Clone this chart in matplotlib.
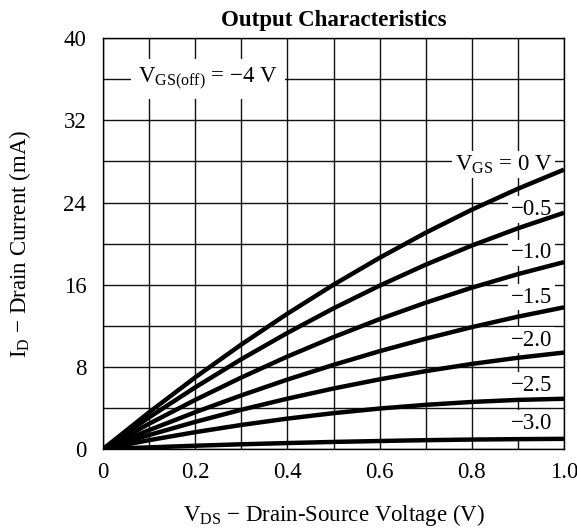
import matplotlib
matplotlib.use('Agg')
import matplotlib.pyplot as plt

# Dados (V_DS em V, I_D em mA)
vds = [0.0, 0.1, 0.2, 0.3, 0.4, 0.5, 0.6, 0.7, 0.8, 0.9, 1.0]
id_0v = [0.0, 3.58, 6.98, 10.18, 13.18, 16.0, 18.62, 21.06, 23.30, 25.34, 27.2]
id_m05 = [0.0, 3.09, 6.01, 8.75, 11.31, 13.7, 15.91, 17.95, 19.81, 21.49, 23.0]
id_m10 = [0.0, 2.47, 4.79, 6.97, 9.01, 10.9, 12.65, 14.25, 15.71, 17.03, 18.2]
id_m15 = [0.0, 1.85, 3.59, 5.23, 6.77, 8.2, 9.53, 10.75, 11.87, 12.89, 13.8]
id_m20 = [0.0, 1.37, 2.65, 3.83, 4.91, 5.9, 6.79, 7.59, 8.29, 8.89, 9.4]
id_m25 = [0.0, 0.87, 1.65, 2.35, 2.97, 3.5, 3.95, 4.31, 4.59, 4.79, 4.9]
id_m30 = [0.0, 0.17, 0.33, 0.47, 0.59, 0.7, 0.79, 0.87, 0.93, 0.97, 1.0]

curvas = [id_0v, id_m05, id_m10, id_m15, id_m20, id_m25, id_m30]
rotulos = ['$\\mathrm{V_{GS}}$ = 0 V', '\u22120.5', '\u22121.0', '\u22121.5',
           '\u22122.0', '\u22122.5', '\u22123.0']
rotulos_y = [27.7, 23.3, 19.1, 14.8, 10.6, 6.2, 2.5]

x_ticks = [0.0, 0.1, 0.2, 0.3, 0.4, 0.5, 0.6, 0.7, 0.8, 0.9, 1.0]
x_labels = ['0', '', '0.2', '', '0.4', '', '0.6', '', '0.8', '', '1.0']
y_ticks = [0, 4, 8, 12, 16, 20, 24, 28, 32, 36, 40]
y_labels = ['0', '', '8', '', '16', '', '24', '', '32', '', '40']

plt.rcParams['font.family'] = ['Liberation Serif', 'DejaVu Serif']
plt.rcParams['mathtext.fontset'] = 'custom'
plt.rcParams['mathtext.rm'] = 'Liberation Serif'
plt.rcParams['mathtext.it'] = 'Liberation Serif:italic'
plt.rcParams['mathtext.bf'] = 'Liberation Serif:bold'

tam = 16.5

fig = plt.figure(figsize=(5.77, 5.29), dpi=100)
ax = fig.add_axes([0.1785, 0.151, 0.799, 0.777])

for curva in curvas:
    ax.plot(vds, curva, color='black', linewidth=3.2, solid_capstyle='butt', zorder=3)

ax.set_xlim(0, 1.0)
ax.set_ylim(0, 40)
ax.set_xticks(x_ticks)
ax.set_xticklabels(x_labels)
ax.set_yticks(y_ticks)
ax.set_yticklabels(y_labels)
ax.tick_params(axis='x', length=0, labelsize=tam, pad=9)
ax.tick_params(axis='y', length=0, labelsize=tam, pad=12)
ax.grid(True, color='#111111', linewidth=1.0, zorder=1)
ax.set_axisbelow(True)
for sp in ax.spines.values():
    sp.set_linewidth(1.0)

# Rótulos das curvas com fundo branco
for texto, yy in zip(rotulos, rotulos_y):
    ax.text(0.975, yy, texto, ha='right', va='center', fontsize=tam,
            bbox=dict(facecolor='white', edgecolor='none', boxstyle='square,pad=0.12'),
            zorder=2)

ax.text(0.228, 36.0, '$\\mathrm{V_{GS(off)}}$ = \u22124 V', ha='center', va='center',
        fontsize=tam, bbox=dict(facecolor='white', edgecolor='none', boxstyle='square,pad=0.3'),
        zorder=2)

ax.set_title('Output Characteristics', fontsize=tam, fontweight='bold', pad=9)
ax.set_xlabel('$\\mathrm{V_{DS}}$ \u2212 Drain-Source Voltage (V)', fontsize=tam, labelpad=14)
ax.set_ylabel('$\\mathrm{I_{D}}$ \u2212 Drain Current (mA)', fontsize=tam, labelpad=22)

fig.savefig('out.png', dpi=100)
